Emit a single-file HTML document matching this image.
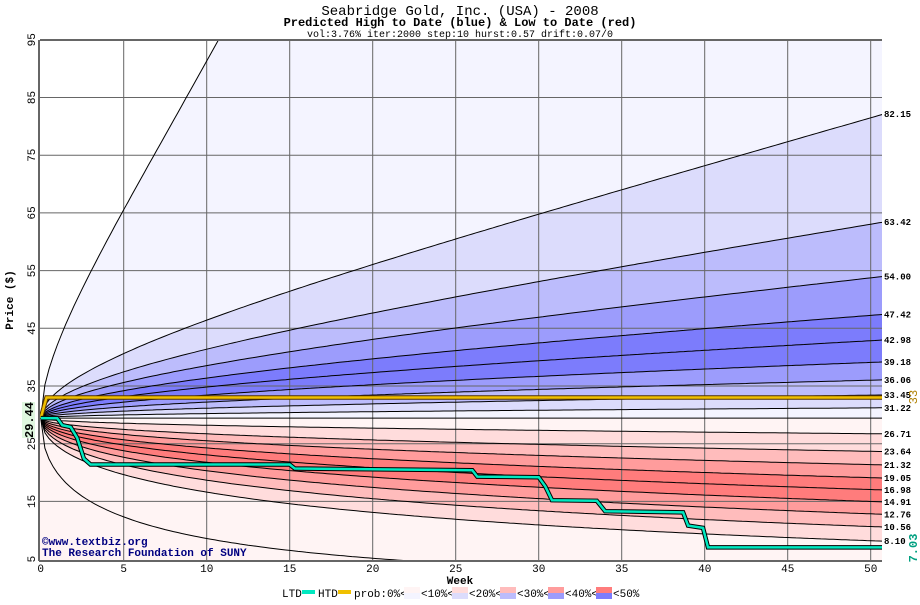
<!DOCTYPE html>
<html><head><meta charset="utf-8"><style>
body{margin:0;background:#fff;width:920px;height:600px;overflow:hidden}
svg text{font-family:"Liberation Mono","DejaVu Sans Mono",monospace}
</style></head><body>
<svg id="s" width="920" height="600" xmlns="http://www.w3.org/2000/svg">
<defs><clipPath id="c"><rect x="40" y="40" width="842" height="520"/></clipPath></defs>
<rect x="40" y="40" width="842" height="520" fill="#fff"/>
<g id="fills" clip-path="url(#c)"></g>
<g id="grid" stroke="#666" stroke-width="1"></g>
<g id="lines" clip-path="url(#c)" fill="none" stroke="#000" stroke-width="1"></g>
<g id="series" clip-path="url(#c)"></g>
<line x1="40" y1="40" x2="882" y2="40" stroke="#666" stroke-width="2"/>
<line x1="39" y1="40" x2="39" y2="561" stroke="#666" stroke-width="2"/>
<line x1="39" y1="561" x2="882" y2="561" stroke="#666" stroke-width="2"/>
<text x="460" y="15" font-size="14" text-anchor="middle">Seabridge Gold, Inc. (USA) - 2008</text>
<text x="460" y="26" font-size="12" font-weight="bold" text-anchor="middle">Predicted High to Date (blue) &amp;  Low to Date (red)</text>
<text x="460" y="37" font-size="10" text-anchor="middle">vol:3.76% iter:2000 step:10 hurst:0.57 drift:0.07/0</text>
<g id="yt" font-size="11"></g>
<g id="xt" font-size="11" text-anchor="middle"></g>
<g id="rl" font-size="9" font-weight="bold"></g>
<text transform="translate(13,300) rotate(-90)" font-size="11" font-weight="bold" text-anchor="middle">Price ($)</text>
<text x="460" y="584" font-size="11" font-weight="bold" text-anchor="middle">Week</text>
<rect x="22" y="402" width="13" height="36" fill="#dff7df"/>
<text transform="translate(33,420) rotate(-90)" font-size="12" font-weight="bold" text-anchor="middle">29.44</text>
<text transform="translate(917,397) rotate(-90)" font-size="12" fill="#b08000" text-anchor="middle">33</text>
<text transform="translate(917,548) rotate(-90)" font-size="12" font-weight="bold" fill="#00a080" text-anchor="middle">7.03</text>
<text x="42" y="545" font-size="11" font-weight="bold" fill="#000080">©www.textbiz.org</text>
<text x="42" y="556" font-size="11" font-weight="bold" fill="#000080">The Research Foundation of SUNY</text>
<g font-size="11">
<text x="282" y="597">LTD</text><rect x="302" y="590" width="13" height="4" fill="#00e8c0"/>
<text x="318" y="597">HTD</text><rect x="338" y="590" width="13" height="4" fill="#f0c000"/>
<text x="354" y="597">prob:0%&lt;</text>
<rect x="404" y="587" width="16" height="6" fill="#fff4f4"/><rect x="404" y="593" width="16" height="6" fill="#f4f4ff"/>
<text x="421" y="597">&lt;10%&lt;</text>
<rect x="452" y="587" width="16" height="6" fill="#ffdcdc"/><rect x="452" y="593" width="16" height="6" fill="#dcdcfc"/>
<text x="469" y="597">&lt;20%&lt;</text>
<rect x="500" y="587" width="16" height="6" fill="#ffbcbc"/><rect x="500" y="593" width="16" height="6" fill="#bcbcfc"/>
<text x="517" y="597">&lt;30%&lt;</text>
<rect x="548" y="587" width="16" height="6" fill="#ff9c9c"/><rect x="548" y="593" width="16" height="6" fill="#9c9cfc"/>
<text x="565" y="597">&lt;40%&lt;</text>
<rect x="596" y="587" width="16" height="6" fill="#ff7c7c"/><rect x="596" y="593" width="16" height="6" fill="#7c7cfc"/>
<text x="613" y="597">&lt;50%</text>
</g>
</svg>
<script>
var NS="http://www.w3.org/2000/svg";
function X(w){return 40.7+w*16.6}
function Y(v){return 386-(v-35)*5.77}
function el(p,t,a,txt){var e=document.createElementNS(NS,t);for(var k in a)e.setAttribute(k,a[k]);if(txt)e.textContent=txt;document.getElementById(p).appendChild(e);return e}
var C=29.44,W=50.8;
function curve(k){var pts=[];for(var w=0;w<=W+0.01;w+=0.25){pts.push([X(w),Y(C*Math.exp(k*Math.sqrt(w)))]);}return pts}
function K(L){return Math.log(L/C)/Math.sqrt(W)}
function ps(p){return p.map(function(q){return q[0].toFixed(1)+","+q[1].toFixed(1)}).join(" ")}
el("fills","rect",{x:40,y:Y(C),width:842,height:560-Y(C),fill:"#fff4f4"});
var up=[[0.358,"#f4f4ff"],[K(82.15),"#dcdcfc"],[K(63.42),"#bcbcfc"],[K(54),"#9c9cfc"],[K(47.42),"#7c7cfc"],[K(39.18),"#9c9cfc"],[K(36.06),"#bcbcfc"],[K(33.45),"#dcdcfc"],[K(31.22),"#f4f4ff"]];
var dn=[[K(8.10),"#ffdcdc"],[K(10.56),"#ffbcbc"],[K(12.76),"#ff9c9c"],[K(14.91),"#ff7c7c"],[K(19.05),"#ff9c9c"],[K(21.32),"#ffbcbc"],[K(23.64),"#ffdcdc"],[K(26.71),"#fff4f4"]];
up.forEach(function(u){var p=curve(u[0]);p.push([X(W),Y(C)]);el("fills","polygon",{points:ps(p),fill:u[1]})});
dn.forEach(function(u){var p=curve(u[0]);p.push([X(W),Y(C)]);el("fills","polygon",{points:ps(p),fill:u[1]})});
for(var v=15;v<=85;v+=10)el("grid","line",{x1:40,x2:882,y1:Y(v),y2:Y(v)});
for(var w=5;w<=50;w+=5)el("grid","line",{x1:X(w),x2:X(w),y1:40,y2:560});
var labs=[82.15,63.42,54.00,47.42,42.98,39.18,36.06,33.45,31.22,26.71,23.64,21.32,19.05,16.98,14.91,12.76,10.56,8.10];
labs.forEach(function(L){el("lines","polyline",{points:ps(curve(K(L)))})});
el("lines","polyline",{points:ps(curve(0.358))});
el("lines","polyline",{points:ps(curve(-0.39))});
el("lines","line",{x1:X(0),x2:882,y1:Y(C),y2:Y(C)});
labs.forEach(function(L){el("rl","text",{x:884,y:Y(L)+3},L.toFixed(2))});
for(var v=5;v<=95;v+=10){el("yt","text",{transform:"translate(35,"+Y(v)+") rotate(-90)","text-anchor":"middle"},""+v)}
for(var w=0;w<=50;w+=5)el("xt","text",{x:X(w),y:572},""+w);
var h=[[0,C],[0.35,33],[W,33]].map(function(q){return[X(q[0]),Y(q[1])]});
el("series","polyline",{points:ps(h),fill:"none",stroke:"#553300",'stroke-width':4.5});
el("series","polyline",{points:ps(h),fill:"none",stroke:"#f0c000",'stroke-width':2.5});
var l=[[0,C],[1,29.4],[1.3,28.2],[1.8,27.9],[2.2,26],[2.6,22.4],[3,21.4],[15,21.4],[15.3,20.7],[26,20.4],[26.3,19.3],[30,19.2],[30.4,17.6],[30.8,15.2],[33.5,15.1],[34,13.3],[38.7,13.1],[39,10.8],[39.9,10.4],[40.2,7.03],[W,7.03]].map(function(q){return[X(q[0]),Y(q[1])]});
el("series","polyline",{points:ps(l),fill:"none",stroke:"#000",'stroke-width':4.5});
el("series","polyline",{points:ps(l),fill:"none",stroke:"#00e8c0",'stroke-width':2.5});
</script>
</body></html>
